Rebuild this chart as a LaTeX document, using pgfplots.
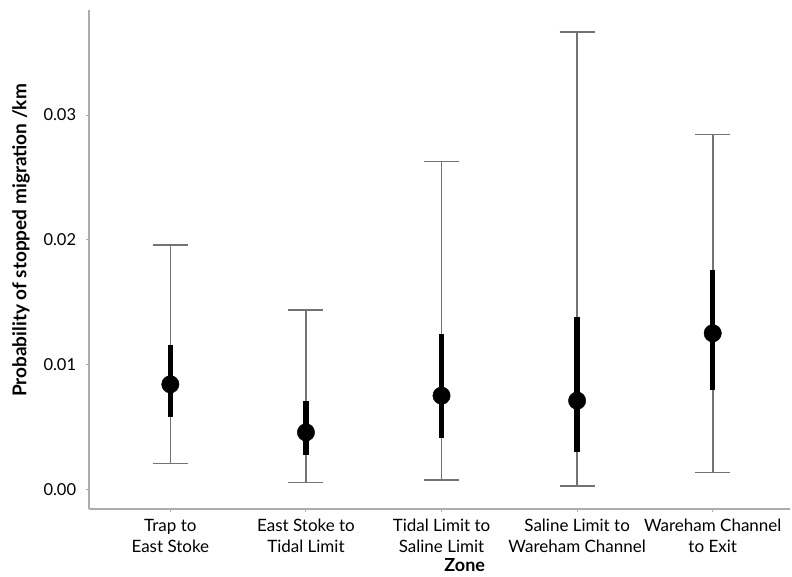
\documentclass[border=0pt]{standalone}
\usepackage{fontspec}
\setmainfont{Lato}
\usepackage{pgfplots}
\pgfplotsset{compat=1.18}
\usepackage{pgfplotstable}
\definecolor{axisgray}{RGB}{172,172,172}
\definecolor{thingray}{RGB}{115,115,115}
\pgfplotstableread{
x mid lo hi tlo thi
0 0.00843 0.00210 0.01957 0.00583 0.01158
1 0.00458 0.00055 0.01438 0.00276 0.00712
2 0.00752 0.00074 0.02627 0.00410 0.01246
3 0.00712 0.00026 0.03666 0.00298 0.01385
4 0.01252 0.00135 0.02843 0.00797 0.01759
}\data
\begin{document}
\fontsize{17bp}{21.5bp}\selectfont
\begin{tikzpicture}
\begin{axis}[
  at={(0,0)}, anchor=south west,
  scale only axis, width=701bp, height=499bp,
  xmin=-0.6, xmax=4.57, ymin=-0.00156, ymax=0.03842,
  axis lines=left,
  axis line style={-, draw=axisgray, line width=2.5bp},
  every outer x axis line/.append style={-},
  every outer y axis line/.append style={-},
  tick align=outside, major tick length=3bp,
  tick style={draw=axisgray, line width=1bp},
  xtick={0,1,2,3,4},
  xticklabels={{Trap to\\East Stoke},{East Stoke to\\Tidal Limit},{Tidal Limit to\\Saline Limit},{Saline Limit to\\Wareham Channel},{Wareham Channel\\to Exit}},
  xticklabel style={align=center, font=\fontsize{17bp}{21.5bp}\selectfont, yshift=-1bp},
  ytick={0,0.01,0.02,0.03},
  yticklabel style={font=\fontsize{16.5bp}{18bp}\selectfont, xshift=-4bp},
  scaled y ticks=false,
  /pgf/number format/.cd, fixed, fixed zerofill, precision=2, assume math mode=true,
  /pgfplots/.cd,
  ylabel={\bfseries Probability of stopped migration /km},
  ylabel style={at={(axis description cs:-0.097,0.538)}, anchor=center, font=\fontsize{19bp}{20bp}\selectfont},
  xlabel={\bfseries Zone},
  xlabel style={at={(axis description cs:0.536,-0.113)}, anchor=center, inner sep=1bp, font=\fontsize{18bp}{20bp}\selectfont},
  clip=false,
]
\addplot[draw=none, mark=none, forget plot,
  error bars/.cd, y dir=both, y explicit,
  error bar style={draw=thingray, line width=1.6bp},
  error mark options={rotate=90, mark size=17.5bp, draw=thingray, line width=1.6bp}]
  table[x=x, y=mid, y error plus expr=\thisrow{hi}-\thisrow{mid}, y error minus expr=\thisrow{mid}-\thisrow{lo}] {\data};
\addplot[draw=none, mark=none, forget plot,
  error bars/.cd, y dir=both, y explicit,
  error bar style={draw=black, line width=5.5bp},
  error mark=none]
  table[x=x, y=mid, y error plus expr=\thisrow{thi}-\thisrow{mid}, y error minus expr=\thisrow{mid}-\thisrow{tlo}] {\data};
\addplot[only marks, mark=*, mark size=8.7bp, black] table[x=x, y=mid] {\data};
\end{axis}
\pgfresetboundingbox
\path[use as bounding box] (-89bp,-68bp) rectangle (703bp,509bp);
\end{tikzpicture}
\end{document}
